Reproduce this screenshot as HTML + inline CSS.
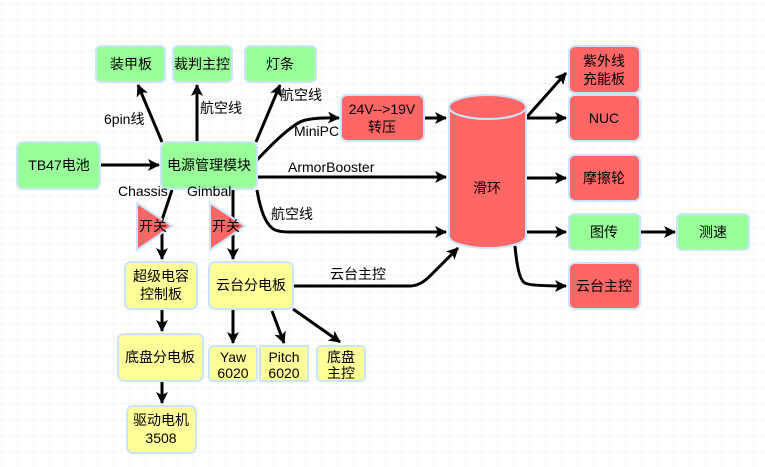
<!DOCTYPE html>
<html><head><meta charset="utf-8"><style>
html,body{margin:0;padding:0;background:#fff}
svg{display:block}
text{font-family:"Liberation Sans","Noto Sans CJK SC",sans-serif;font-size:14px;fill:#000}
</style></head><body>
<svg width="765" height="467" viewBox="0 0 765 467" xmlns="http://www.w3.org/2000/svg">
<defs>
<pattern id="g" width="16" height="16" patternUnits="userSpaceOnUse" x="1" y="3">
<path d="M16 0H0V16" fill="none" stroke="#eeeeee" stroke-width="1"/>
</pattern>
<marker id="a" markerWidth="8" markerHeight="8" refX="7" refY="4" orient="auto" markerUnits="userSpaceOnUse" viewBox="0 0 8 8">
</marker>
<marker id="ar" viewBox="0 0 12 12" refX="11" refY="6" markerWidth="12" markerHeight="12" markerUnits="userSpaceOnUse" orient="auto">
<path d="M0,0 L12,6 L0,12 L3,6 Z" fill="#000"/>
</marker>
</defs>
<rect width="765" height="467" fill="url(#g)"/>

<g stroke="#000" stroke-width="3" fill="none" marker-end="url(#ar)">
<path d="M101 165H159"/>
<path d="M162 142L138 85"/>
<path d="M197 142V85"/>
<path d="M256 142L280 85"/>
<path d="M257 160Q285 130 300 122Q310 117 339 118"/>
<path d="M257 177H446"/>
<path d="M257 190Q262 220 272 228Q276 232 290 232H446"/>
<path d="M424 118H446"/>
<path d="M526 118L566 73"/>
<path d="M526 118H566"/>
<path d="M526 178H566"/>
<path d="M526 232H566"/>
<path d="M641 232H675"/>
<path d="M515 246Q518 280 525 283Q530 286 566 286"/>
<path d="M293 286H410Q420 286 430 276L458 248"/>
<path d="M172 190L162 220V259"/>
<path d="M233 190V259"/>
<path d="M162 310V331"/>
<path d="M162 382V403"/>
<path d="M233 310V343"/>
<path d="M272 311L284 343"/>
<path d="M293 309L340 342"/>
</g>

<g stroke="#cce5ff" stroke-width="2">
<rect x="96" y="46" width="69" height="36" rx="5" fill="#99ff99"/>
<rect x="173" y="46" width="59" height="36" rx="5" fill="#99ff99"/>
<rect x="245" y="46" width="71" height="36" rx="5" fill="#99ff99"/>
<rect x="17" y="142" width="83" height="47" rx="6" fill="#99ff99"/>
<rect x="161" y="142" width="96" height="47" rx="6" fill="#99ff99"/>
<rect x="341" y="95" width="83" height="46" rx="6" fill="#ff6666"/>
<path d="M449 107V236A38.5 12 0 0 0 526 236V107" fill="#ff6666"/>
<ellipse cx="487.5" cy="107" rx="38.5" ry="12" fill="#ff6666"/>
<rect x="569" y="46" width="71" height="47" rx="6" fill="#ff6666"/>
<rect x="569" y="95" width="71" height="46" rx="6" fill="#ff6666"/>
<rect x="569" y="155" width="71" height="46" rx="6" fill="#ff6666"/>
<rect x="569" y="214" width="71" height="36" rx="5" fill="#99ff99"/>
<rect x="677" y="214" width="72" height="36" rx="5" fill="#99ff99"/>
<rect x="569" y="263" width="71" height="46" rx="6" fill="#ff6666"/>
<path d="M137 203L172 226L137 250Z" fill="#ff6666"/>
<path d="M210 203L245 226L210 250Z" fill="#ff6666"/>
<rect x="125" y="262" width="72" height="47" rx="6" fill="#ffff99"/>
<rect x="209" y="262" width="84" height="47" rx="6" fill="#ffff99"/>
<rect x="118" y="334" width="85" height="47" rx="6" fill="#ffff99"/>
<rect x="127" y="406" width="69" height="47" rx="6" fill="#ffff99"/>
<rect x="209" y="346" width="48" height="35" rx="4" fill="#ffff99"/>
<rect x="260" y="346" width="48" height="35" fill="#ffff99"/>
<rect x="317" y="346" width="48" height="35" rx="4" fill="#ffff99"/>
</g>

<g text-anchor="middle">
<text x="131" y="69">装甲板</text>
<text x="202" y="69">裁判主控</text>
<text x="280" y="69">灯条</text>
<text x="59" y="170">TB47电池</text>
<text x="209" y="170">电源管理模块</text>
<text x="382" y="114">24V--&gt;19V</text>
<text x="382" y="132">转压</text>
<text x="487" y="193">滑环</text>
<text x="604" y="66">紫外线</text>
<text x="604" y="84">充能板</text>
<text x="604" y="123">NUC</text>
<text x="604" y="183">摩擦轮</text>
<text x="604" y="237">图传</text>
<text x="713" y="237">测速</text>
<text x="604" y="291">云台主控</text>
<text x="153" y="231">开关</text>
<text x="226" y="231">开关</text>
<text x="161" y="281">超级电容</text>
<text x="161" y="299">控制板</text>
<text x="251" y="290">云台分电板</text>
<text x="160" y="362">底盘分电板</text>
<text x="161" y="425">驱动电机</text>
<text x="161" y="443">3508</text>
<text x="233" y="362">Yaw</text>
<text x="233" y="378">6020</text>
<text x="284" y="362">Pitch</text>
<text x="284" y="378">6020</text>
<text x="341" y="362">底盘</text>
<text x="341" y="378">主控</text>
</g>
<g>
<text x="104" y="124">6pin线</text>
<text x="200" y="113">航空线</text>
<text x="280" y="100">航空线</text>
<text x="294" y="136">MiniPC</text>
<text x="288" y="172">ArmorBooster</text>
<text x="271" y="219">航空线</text>
<text x="118" y="196">Chassis</text>
<text x="187" y="196">Gimbal</text>
<text x="330" y="279">云台主控</text>
</g>
</svg>
</body></html>
